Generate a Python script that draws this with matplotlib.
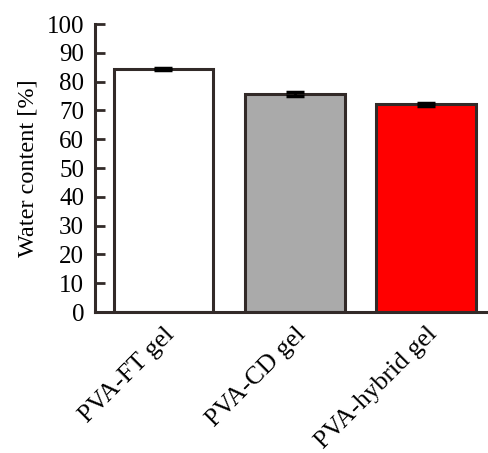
import matplotlib
matplotlib.use("Agg")
import numpy as np
import matplotlib.pyplot as plt

# data
samples = ["PVA-FT gel", "PVA-CD gel", "PVA-hybrid gel"]
water_content = [84.4, 75.6, 72.1]
errors = [0.2, 0.7, 0.5]
bar_colors = ["#ffffff", "#aaaaaa", "#ff0000"]

EDGE = "#322a28"

plt.rcParams["font.family"] = ["Liberation Serif", "DejaVu Serif"]

fig = plt.figure(figsize=(4.88, 4.53), dpi=100)
ax = fig.add_axes([0.195, 0.311, 0.805, 0.636])

x = np.arange(len(samples))
ax.bar(x, water_content, width=0.76, color=bar_colors, edgecolor=EDGE,
       linewidth=2.2, zorder=2)
ax.errorbar(x, water_content, yerr=errors, fmt="none", ecolor="black",
            elinewidth=2, capsize=6.5, capthick=2.5, zorder=3)

ax.set_xlim(-0.52, 2.47)
ax.set_ylim(0, 100)
ax.set_yticks(np.arange(0, 101, 10))
ax.set_xticks(x)
ax.set_xticklabels(samples, rotation=45, ha="right", rotation_mode="anchor",
                   fontsize=18.5)
ax.tick_params(axis="y", direction="in", length=7, width=2, color=EDGE,
               labelsize=18, pad=8)
ax.tick_params(axis="x", length=0, pad=8)
ax.set_ylabel("Water content [%]", fontsize=17.5, labelpad=6)

for side in ["top", "right"]:
    ax.spines[side].set_visible(False)
for side in ["left", "bottom"]:
    ax.spines[side].set_linewidth(2.2)
    ax.spines[side].set_color(EDGE)

fig.savefig("out.png", dpi=100)
